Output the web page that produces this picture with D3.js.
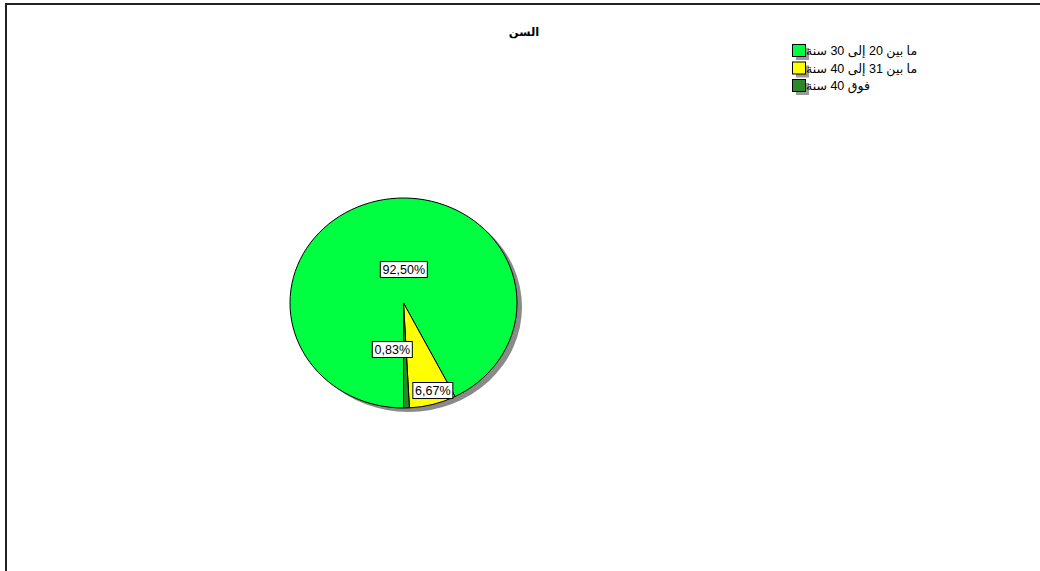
<!DOCTYPE html>
<html>
<head>
<meta charset="utf-8">
<script src="https://cdn.jsdelivr.net/npm/d3@7"></script>
<style>
  html, body { margin: 0; padding: 0; background: #fff; }
  svg { display: block; }
  text { font-family: "Liberation Sans", Arial, "DejaVu Sans", sans-serif; }
</style>
</head>
<body>
<svg id="chart" width="1040" height="571"></svg>
<script>
// Age groups (السن) and their percentage shares
const categories = ["ما بين 20 إلى 30 سنة", "ما بين 31 إلى 40 سنة", "فوق 40 سنة"];
const percents = [92.50, 6.67, 0.83];
const colors = ["#00ff40", "#ffff00", "#2a8a2a"];
const title = "السن";

const W = 1040, H = 571;
const svg = d3.select("#chart");

// frame (open to the right and bottom)
svg.append("path")
  .attr("d", `M6,${H + 5} V4 H${W + 5}`)
  .attr("fill", "none")
  .attr("stroke", "#222")
  .attr("stroke-width", 2);

// title
svg.append("text")
  .attr("x", 524).attr("y", 36)
  .attr("text-anchor", "middle")
  .attr("font-size", 11.5)
  .attr("font-weight", "bold")
  .text(title);

// elliptical pie
const cx = 403.5, cy = 303, rx = 113.5, ry = 105;

svg.append("ellipse")
  .attr("cx", cx + 5).attr("cy", cy + 4)
  .attr("rx", rx).attr("ry", ry)
  .attr("fill", "#8a8a8a");

const pie = d3.pie().sort(null).value(d => d)
  .startAngle(Math.PI).endAngle(3 * Math.PI);
const arcs = pie(percents);
const arc = d3.arc().innerRadius(0).outerRadius(rx);

const g = svg.append("g")
  .attr("transform", `translate(${cx},${cy}) scale(1,${ry / rx})`);

g.selectAll("path")
  .data(arcs)
  .join("path")
  .attr("d", arc)
  .attr("fill", (d, i) => colors[i])
  .attr("stroke", "#000")
  .attr("stroke-width", 1)
  .attr("vector-effect", "non-scaling-stroke");

// value labels in boxed callouts
const fmt = d3.formatLocale({ decimal: ",", thousands: ".", grouping: [3], currency: ["", ""] })
  .format(".2f");
const labelLayout = [{ f: 0.328, dx: 9 }, { f: 0.863, dx: 4 }, { f: 0.443, dx: -12.5 }];

const labels = svg.append("g");
arcs.forEach((a, i) => {
  const mid = (a.startAngle + a.endAngle) / 2;
  const L = labelLayout[i];
  const x = cx + L.f * rx * Math.sin(mid) + L.dx;
  const y = cy - L.f * ry * Math.cos(mid);
  const lg = labels.append("g").attr("transform", `translate(${x},${y})`);
  const rect = lg.append("rect").attr("fill", "#fff").attr("stroke", "#000").attr("stroke-width", 1);
  const t = lg.append("text")
    .attr("text-anchor", "middle")
    .attr("dy", "0.35em")
    .attr("font-size", 12.5)
    .text(fmt(a.data) + "%");
  const bb = t.node().getBBox();
  const w = Math.round(bb.width) + 5, h = 16;
  rect.attr("x", -w / 2).attr("y", -h / 2).attr("width", w).attr("height", h);
});

// legend
const legend = svg.append("g").attr("transform", "translate(792,44)");
const rows = legend.selectAll("g")
  .data(categories)
  .join("g")
  .attr("transform", (d, i) => `translate(0,${i * 17.5})`);
rows.append("rect")
  .attr("x", 4).attr("y", 4).attr("width", 13).attr("height", 12)
  .attr("fill", "#9a9a9a");
rows.append("rect")
  .attr("x", 0.5).attr("y", 0.5).attr("width", 13).attr("height", 12)
  .attr("fill", (d, i) => colors[i])
  .attr("stroke", "#000").attr("stroke-width", 1);
rows.append("text")
  .attr("x", 14).attr("y", 11)
  .attr("font-size", 12.5)
  .text(d => d);
</script>
</body>
</html>
